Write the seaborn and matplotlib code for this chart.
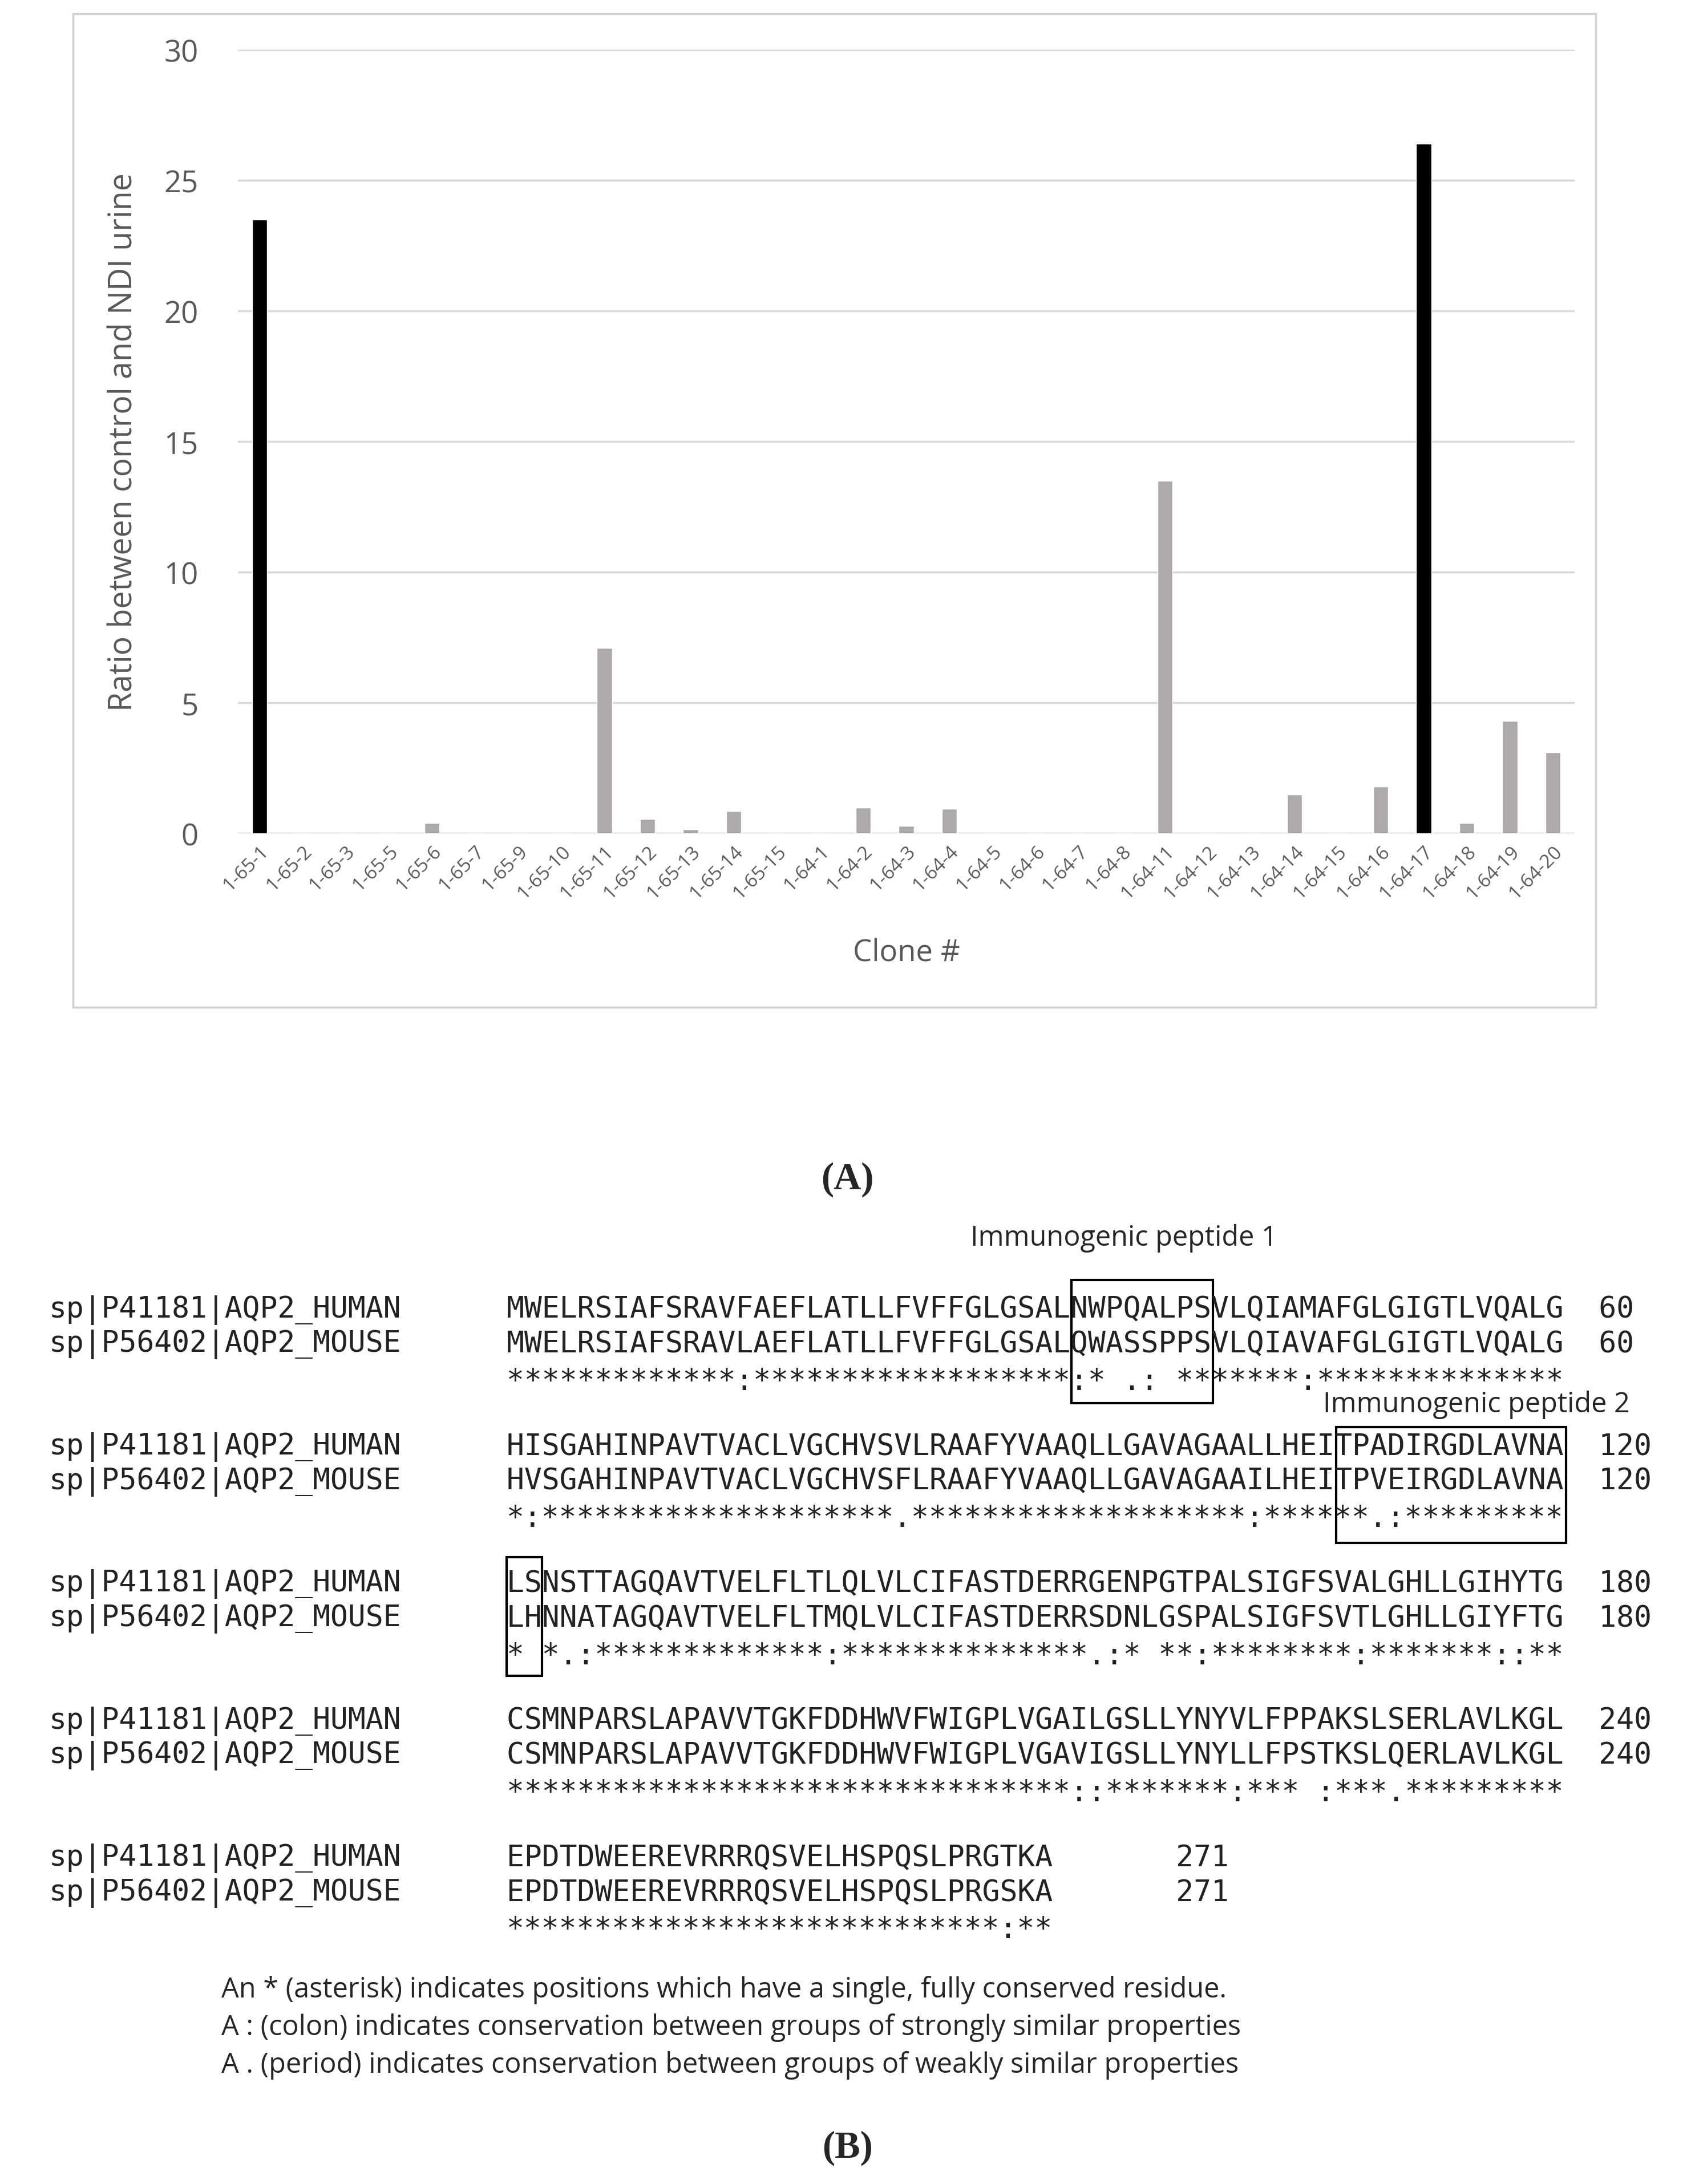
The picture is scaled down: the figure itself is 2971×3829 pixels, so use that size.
import numpy as np
import pandas as pd
import matplotlib
matplotlib.use("Agg")
import matplotlib.pyplot as plt
from matplotlib.patches import Rectangle
import seaborn as sns

# =============================================================
# DATA
# =============================================================
clones = ["1-65-1", "1-65-2", "1-65-3", "1-65-5", "1-65-6", "1-65-7", "1-65-9",
          "1-65-10", "1-65-11", "1-65-12", "1-65-13", "1-65-14", "1-65-15",
          "1-64-1", "1-64-2", "1-64-3", "1-64-4", "1-64-5", "1-64-6", "1-64-7",
          "1-64-8", "1-64-11", "1-64-12", "1-64-13", "1-64-14", "1-64-15",
          "1-64-16", "1-64-17", "1-64-18", "1-64-19", "1-64-20"]
ratios = [23.5, 0, 0, 0, 0.4, 0, 0, 0, 7.1, 0.55, 0.15, 0.85, 0,
          0, 1.0, 0.3, 0.95, 0, 0, 0, 0, 13.5, 0, 0, 1.5, 0,
          1.8, 26.4, 0.4, 4.3, 3.1]
highlight = ["1-65-1", "1-64-17"]

names = ["sp|P41181|AQP2_HUMAN", "sp|P56402|AQP2_MOUSE"]
human_seq = ["MWELRSIAFSRAVFAEFLATLLFVFFGLGSALNWPQALPSVLQIAMAFGLGIGTLVQALG",
             "HISGAHINPAVTVACLVGCHVSVLRAAFYVAAQLLGAVAGAALLHEITPADIRGDLAVNA",
             "LSNSTTAGQAVTVELFLTLQLVLCIFASTDERRGENPGTPALSIGFSVALGHLLGIHYTG",
             "CSMNPARSLAPAVVTGKFDDHWVFWIGPLVGAILGSLLYNYVLFPPAKSLSERLAVLKGL",
             "EPDTDWEEREVRRRQSVELHSPQSLPRGTKA"]
mouse_seq = ["MWELRSIAFSRAVLAEFLATLLFVFFGLGSALQWASSPPSVLQIAVAFGLGIGTLVQALG",
             "HVSGAHINPAVTVACLVGCHVSFLRAAFYVAAQLLGAVAGAAILHEITPVEIRGDLAVNA",
             "LHNNATAGQAVTVELFLTMQLVLCIFASTDERRSDNLGSPALSIGFSVTLGHLLGIYFTG",
             "CSMNPARSLAPAVVTGKFDDHWVFWIGPLVGAVIGSLLYNYLLFPSTKSLQERLAVLKGL",
             "EPDTDWEEREVRRRQSVELHSPQSLPRGSKA"]
consensus = ["*************:******************:* .: *******:**************",
             "*:********************.*******************:******.:*********",
             "* *.:*************:**************.:* **:********:*******::**",
             "********************************::*******:*** :***.*********",
             "****************************:**"]
end_numbers = ["60", "120", "180", "240", "271"]
footnotes = ["An * (asterisk) indicates positions which have a single, fully conserved residue.",
             "A : (colon) indicates conservation between groups of strongly similar properties",
             "A . (period) indicates conservation between groups of weakly similar properties"]

# =============================================================
# FIGURE
# =============================================================
sns.set_style("white")
plt.rcParams["font.family"] = ["Open Sans", "DejaVu Sans"]

W, H = 2971, 3830
DW, DH = 1211.0, 1561.0   # coordinates
fig = plt.figure(figsize=(W / 100, H / 100), dpi=100)


def fx(x):
    return x / DW


def fy(y):
    return 1 - y / DH


# --- panel A frame
fig.patches.append(Rectangle((fx(52), fy(720)), fx(1140) - fx(52), fy(10) - fy(720),
                             transform=fig.transFigure, fill=False,
                             edgecolor="#d0d0d0", linewidth=2.5))

ax = fig.add_axes([fx(170), fy(596), fx(1125) - fx(170), fy(36) - fy(596)])
df = pd.DataFrame({"clone": clones, "ratio": ratios})
palette = {c: ("#000000" if c in highlight else "#aeaaaa") for c in clones}
sns.barplot(data=df, x="clone", y="ratio", hue="clone", palette=palette,
            width=0.35, legend=False, ax=ax, saturation=1)
ax.set_ylim(0, 30)
ax.set_xlim(-0.5, len(clones) - 0.5)
ax.set_yticks(range(0, 31, 5))
ax.yaxis.grid(True, color="#d9d9d9", linewidth=2.5)
ax.set_axisbelow(True)
for s in ax.spines.values():
    s.set_visible(False)
ax.tick_params(axis="y", labelsize=38, labelcolor="#595959", length=0, pad=50)
ax.tick_params(axis="x", labelsize=24, labelcolor="#595959", length=0, pad=10)
plt.setp(ax.get_xticklabels(), rotation=45, ha="right", rotation_mode="anchor")
ax.set_ylabel("Ratio between control and NDI urine", fontsize=40, color="#595959", labelpad=30)
ax.set_xlabel("Clone #", fontsize=38, color="#595959", labelpad=45)

fig.text(0.5, fy(843), "(A)", ha="center", va="center", fontsize=48,
         fontweight="bold", family="Liberation Serif")

# =============================================================
# PANEL B - alignment
# =============================================================
mono = "DejaVu Sans Mono"
fs = 37
charw = 0.6021 * fs * 100 / 72 / W   # advance width in figure fraction
seq_x = fx(362)
name_x = fx(35)
row_y = [936, 1034, 1132, 1230, 1328]
gap = 24.7
for i in range(len(human_seq)):
    y0 = row_y[i]
    pad = 62 - len(human_seq[i]) if i < 4 else 38 - len(human_seq[i])
    for j, (nm, sq) in enumerate(zip(names, [human_seq[i], mouse_seq[i]])):
        yy = fy(y0 + j * gap)
        fig.text(name_x, yy, nm, family=mono, fontsize=fs, va="center", ha="left", color="#222222")
        fig.text(seq_x, yy, sq + " " * pad + end_numbers[i], family=mono, fontsize=fs,
                 va="center", ha="left", color="#222222")
    fig.text(seq_x, fy(y0 + 2 * gap + 2), consensus[i], family=mono, fontsize=fs,
             va="center", ha="left", color="#222222")


def box(c0, c1, y_top, y_bot):
    x0 = seq_x + c0 * charw
    x1 = seq_x + c1 * charw
    fig.patches.append(Rectangle((x0, fy(y_bot)), x1 - x0, fy(y_top) - fy(y_bot),
                                 transform=fig.transFigure, fill=False,
                                 edgecolor="black", linewidth=3))


box(32, 40, 915, 1003)
box(47, 60, 1020, 1103)
box(0, 2, 1113, 1198)
fig.text(fx(803), fy(885), "Immunogenic peptide 1", ha="center", va="center", fontsize=35)
fig.text(fx(1055), fy(1004), "Immunogenic peptide 2", ha="center", va="center", fontsize=35)

for k, line in enumerate(footnotes):
    fig.text(fx(158), fy(1422 + k * 27), line, ha="left", va="center", fontsize=35)

fig.text(0.5, fy(1535), "(B)", ha="center", va="center", fontsize=48,
         fontweight="bold", family="Liberation Serif")

fig.savefig("out.png", dpi=100)
